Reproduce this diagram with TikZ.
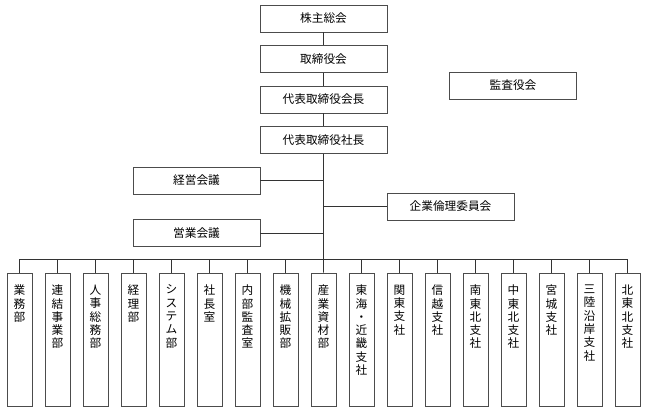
\documentclass[tikz,border=0pt]{standalone}
\usepackage{fontspec}
\newfontfamily\jpfont{Noto Sans CJK JP}
\usepackage{tikz}
\tikzset{block/.style = {rectangle, draw=black!70, line width=0.7pt, minimum width=3.175cm, minimum height=0.675cm, inner sep=0pt, text centered, font=\jpfont\fontsize{8.3pt}{9.4pt}\selectfont}}
\tikzset{dept/.style = {rectangle, draw=black!70, line width=0.7pt, minimum width=0.625cm, inner xsep=0pt, inner ysep=0.3cm, font=\jpfont\fontsize{8.3pt}{9.45pt}\selectfont}}
\tikzset{line/.style = {draw=black!80, line width=0.6pt}}
\newcommand{\tate}[1]{\parbox[t][2.725cm][t]{0.625cm}{\centering #1}}

\begin{document}
\begin{tikzpicture}[node distance=1.0125cm]
	\useasboundingbox (0,0) rectangle (16.225,-10.275);

	\node (kabunushi) 	[block] at (8.0875,-0.4625) 					{株主総会};
	\node (torishimari) [block, below of=kabunushi] 					{取締役会};
	\node (kaicho) 		[block, below of=torishimari] 					{代表取締役会長};
	\node (shacho) 		[block, below of=kaicho] 						{代表取締役社長};
	\node (kansa) 		[block, right of=kaicho, xshift=3.725cm, yshift=0.35cm] {監査役会};
	\node (keiei) 		[block, below of=shacho, xshift=-3.175cm] 		{経営会議};
	\node (eigyo) 		[block, below of=keiei, yshift=-0.3cm] 			{営業会議};
	\node (rinri) 		[block, below of=shacho, xshift=3.175cm, yshift=-0.65cm] {企業倫理委員会};

	\begin{scope}[node distance=0.95cm]
	\node (gyomu) 		[dept] at (0.4875,-8.4875) 	{\tate{業\\務\\部}};
	\node (renketsu) 	[dept, right of=gyomu] 		{\tate{連\\結\\事\\業\\部}};
	\node (jinji) 		[dept, right of=renketsu] 	{\tate{人\\事\\総\\務\\部}};
	\node (keiri) 		[dept, right of=jinji] 		{\tate{経\\理\\部}};
	\node (system) 		[dept, right of=keiri] 		{\tate{シ\\ス\\テ\\ム\\部}};
	\node (shachoshitsu) [dept, right of=system] 	{\tate{社\\長\\室}};
	\node (naibu) 		[dept, right of=shachoshitsu] {\tate{内\\部\\監\\査\\室}};
	\node (kikai) 		[dept, right of=naibu] 		{\tate{機\\械\\拡\\販\\部}};
	\node (sangyo) 		[dept, right of=kikai] 		{\tate{産\\業\\資\\材\\部}};
	\node (tokai) 		[dept, right of=sangyo] 	{\tate{東\\海\\・\\近\\畿\\支\\社}};
	\node (kanto) 		[dept, right of=tokai] 		{\tate{関\\東\\支\\社}};
	\node (shinetsu) 	[dept, right of=kanto] 		{\tate{信\\越\\支\\社}};
	\node (minami) 		[dept, right of=shinetsu] 	{\tate{南\\東\\北\\支\\社}};
	\node (naka) 		[dept, right of=minami] 	{\tate{中\\東\\北\\支\\社}};
	\node (miyagi) 		[dept, right of=naka] 		{\tate{宮\\城\\支\\社}};
	\node (sanriku) 	[dept, right of=miyagi] 	{\tate{三\\陸\\沿\\岸\\支\\社}};
	\node (kita) 		[dept, right of=sanriku] 	{\tate{北\\東\\北\\支\\社}};
	\end{scope}

	\coordinate (bus) at (0,-6.475);

	\draw [line] (kabunushi) 	-- (torishimari);
	\draw [line] (torishimari) 	-- (kaicho);
	\draw [line] (kaicho) 		-- (shacho);
	\draw [line] (shacho) 		-- (sangyo);

	\draw [line] (keiei) 		-- (keiei -| shacho);
	\draw [line] (eigyo) 		-- (eigyo -| shacho);
	\draw [line] (rinri) 		-- (rinri -| shacho);

	\draw [line] (gyomu) 		|- (bus -| kita) -- (kita);
	\draw [line] (renketsu) 	-- (renketsu |- bus);
	\draw [line] (jinji) 		-- (jinji |- bus);
	\draw [line] (keiri) 		-- (keiri |- bus);
	\draw [line] (system) 		-- (system |- bus);
	\draw [line] (shachoshitsu) -- (shachoshitsu |- bus);
	\draw [line] (naibu) 		-- (naibu |- bus);
	\draw [line] (kikai) 		-- (kikai |- bus);
	\draw [line] (tokai) 		-- (tokai |- bus);
	\draw [line] (kanto) 		-- (kanto |- bus);
	\draw [line] (shinetsu) 	-- (shinetsu |- bus);
	\draw [line] (minami) 		-- (minami |- bus);
	\draw [line] (naka) 		-- (naka |- bus);
	\draw [line] (miyagi) 		-- (miyagi |- bus);
	\draw [line] (sanriku) 		-- (sanriku |- bus);
\end{tikzpicture}
\end{document}
